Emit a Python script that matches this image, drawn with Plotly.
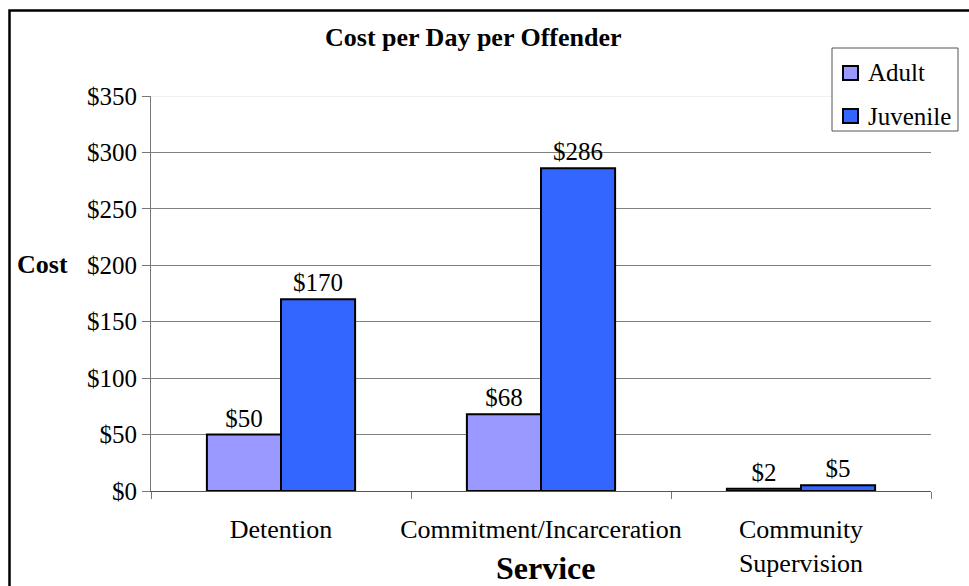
import plotly.graph_objects as go

# Chart data
services = ["Detention", "Commitment/Incarceration", "Community<br>Supervision"]
adult_cost = [50, 68, 2]
juvenile_cost = [170, 286, 5]
y_ticks = [0, 50, 100, 150, 200, 250, 300, 350]
y_tick_labels = ["$" + str(v) for v in y_ticks]
series_names = ["Adult", "Juvenile"]
series_colors = ["#9999FF", "#3366FF"]

W, H = 969, 586
L, R, T, B = 151, 38, 96, 95
pw, ph = W - L - R, H - T - B


def px_x(p):
    return (p - L) / pw


def px_y(p):
    return (H - B - p) / ph


font_family = "Liberation Serif, Times New Roman, serif"

fig = go.Figure()
for name, values, color in zip(series_names, [adult_cost, juvenile_cost], series_colors):
    fig.add_trace(go.Bar(
        name=name, x=services, y=values,
        marker=dict(color=color, line=dict(color="black", width=2)),
        text=["$" + str(v) for v in values], textposition="outside",
        textfont=dict(size=25, color="black", family=font_family),
        cliponaxis=False,
    ))

# Boxed legend in the top-right corner
legend_shapes = [
    dict(type="rect", xref="paper", yref="paper",
         x0=px_x(832), x1=px_x(958), y0=px_y(131), y1=px_y(48),
         line=dict(color="#555555", width=1), fillcolor="white", layer="above"),
]
legend_texts = []
for i, (name, color) in enumerate(zip(series_names, series_colors)):
    cy = 73 + 43 * i
    legend_shapes.append(dict(
        type="rect", xref="paper", yref="paper",
        x0=px_x(843), x1=px_x(858), y0=px_y(cy + 7), y1=px_y(cy - 7),
        line=dict(color="black", width=2), fillcolor=color, layer="above"))
    legend_texts.append(dict(
        text=name, x=px_x(866), y=px_y(cy), xref="paper", yref="paper",
        xanchor="left", yanchor="middle", showarrow=False,
        font=dict(size=25, family=font_family)))

fig.update_layout(
    width=W, height=H,
    margin=dict(l=L, r=R, t=T, b=B, pad=0),
    paper_bgcolor="white", plot_bgcolor="white",
    barmode="group", bargap=0.43, bargroupgap=0,
    font=dict(family=font_family, color="black"),
    showlegend=False,
    xaxis=dict(
        showline=True, linecolor="#555555", linewidth=1,
        ticks="outside", tickson="boundaries", ticklen=7, tickcolor="#777777",
        tickfont=dict(size=26, family=font_family),
        tickangle=0, automargin=False, ticklabelstandoff=15,
    ),
    yaxis=dict(
        range=[0, 350], tickvals=y_ticks, ticktext=y_tick_labels,
        showline=True, linecolor="#777777", linewidth=1,
        ticks="outside", ticklen=8, tickcolor="#777777",
        showgrid=True, gridcolor="#808080", gridwidth=1,
        tickfont=dict(size=25, family=font_family),
        zeroline=False, automargin=False,
    ),
    annotations=[
        dict(text="<b>Cost per Day per Offender</b>", x=px_x(473), y=px_y(37),
             xref="paper", yref="paper", xanchor="center", yanchor="middle",
             showarrow=False, font=dict(size=26, family=font_family)),
        dict(text="<b>Cost</b>", x=px_x(42), y=px_y(264),
             xref="paper", yref="paper", xanchor="center", yanchor="middle",
             showarrow=False, font=dict(size=26, family=font_family)),
        dict(text="<b>Service</b>", x=px_x(546), y=px_y(568),
             xref="paper", yref="paper", xanchor="center", yanchor="middle",
             showarrow=False, font=dict(size=32, family=font_family)),
    ] + legend_texts,
    shapes=[
        # lighter top gridline
        dict(type="line", xref="paper", yref="y", x0=0, x1=1, y0=350, y1=350,
             line=dict(color="#e2e2e2", width=1), layer="below"),
        # outer chart frame
        dict(type="rect", xref="paper", yref="paper",
             x0=px_x(9.5), x1=px_x(985), y0=px_y(600), y1=px_y(10.5),
             line=dict(color="black", width=2.5), layer="above"),
    ] + legend_shapes,
)

fig.write_html("out.html")
